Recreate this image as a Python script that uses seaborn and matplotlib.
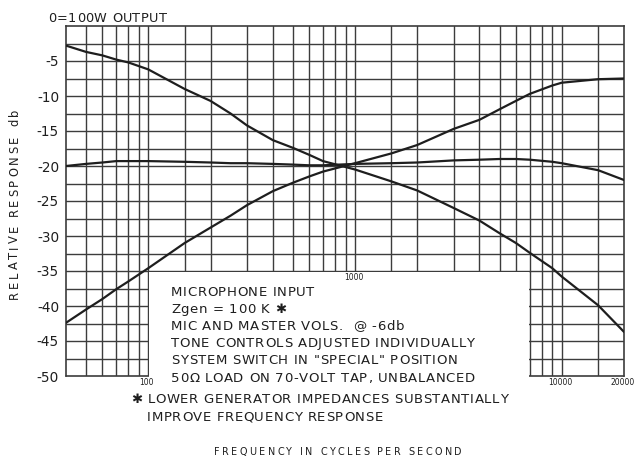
import matplotlib
matplotlib.use("Agg")
import matplotlib.pyplot as plt
import numpy as np
import pandas as pd
import seaborn as sns
from matplotlib.patches import Rectangle
from matplotlib.font_manager import FontProperties, findfont
from matplotlib.ft2font import FT2Font

# Frequency response of the microphone channel, tone controls set individually
freq_hz = [40, 50, 60, 70, 80, 100, 150, 200, 250, 300, 400, 500, 600, 700,
           1000, 1500, 2000, 3000, 4000, 5000, 6000, 7000, 9000, 10000, 15000, 20000]
bass_boost_db = [-2.8, -3.7, -4.2, -4.8, -5.2, -6.2, -9.0, -10.7, -12.5, -14.2, -16.3, -17.4, -18.4, -19.3,
                 -20.5, -22.2, -23.5, -26.0, -27.8, -29.6, -31.0, -32.4, -34.6, -35.8, -39.9, -43.7]
flat_db = [-20.0, -19.7, -19.5, -19.3, -19.3, -19.3, -19.4, -19.5, -19.6, -19.6, -19.7, -19.8, -19.9, -19.9,
           -19.7, -19.6, -19.5, -19.2, -19.1, -19.0, -19.0, -19.1, -19.4, -19.6, -20.6, -22.0]
treble_boost_db = [-42.4, -40.5, -39.0, -37.6, -36.5, -34.6, -31.0, -28.8, -27.1, -25.6, -23.6, -22.4, -21.5, -20.8,
                   -19.6, -18.2, -17.0, -14.7, -13.4, -11.9, -10.7, -9.7, -8.5, -8.1, -7.6, -7.5]

# Graph-paper rulings
grid_freqs = [50, 60, 70, 80, 90, 100, 150, 200, 300, 400, 500, 600, 700, 800, 900,
              1000, 1500, 2000, 3000, 4000, 5000, 6000, 7000, 8000, 9000, 10000, 15000]
grid_db = [-47.5, -45, -42.5, -40, -37.5, -35, -32.5, -30, -27.5, -25, -22.5, -20,
           -17.5, -15, -12.5, -10, -7.5, -5, -2.5]
y_ticks = [-5, -10, -15, -20, -25, -30, -35, -40, -45, -50]
x_label_freqs = [100, 1000, 10000, 20000]
x_label_texts = ["100", "1000", "10000", "20000"]

notes = [
    "MICROPHONE INPUT",
    "Zgen = 100 K \u2731",
    "MIC AND MASTER VOLS.  @ -6db",
    "TONE CONTROLS ADJUSTED INDIVIDUALLY",
    "SYSTEM SWITCH IN \"SPECIAL\" POSITION",
    "50\u03a9 LOAD ON 70-VOLT TAP, UNBALANCED",
]
footnote = ["\u2731 LOWER GENERATOR IMPEDANCES SUBSTANTIALLY", "IMPROVE FREQUENCY RESPONSE"]

sns.set_style("white")
plt.rcParams["font.family"] = ["DejaVu Sans"]
INK = "#1e1e1e"
RULE = "#3c3c3c"

W, H = 639, 457
fig = plt.figure(figsize=(W / 100, H / 100), dpi=100)
fig.patch.set_facecolor("white")

_face = FT2Font(findfont(FontProperties(family="DejaVu Sans")), hinting_factor=1)


def lettering(x_px, y_px, s, size, tracking, align="left", vertical=False):
    """Stencil-style lettering: glyphs placed one by one with extra spacing."""
    _face.set_size(size, 100)
    adv = [_face.load_char(ord(c)).linearHoriAdvance / 65536 for c in s]
    total = sum(adv) + tracking * (len(s) - 1)
    cap = 0.73 * size * 100 / 72
    offs = -total / 2 if align == "center" else 0.0
    for c, a in zip(s, adv):
        if c != " ":
            if vertical:
                x, y, rot = x_px + cap / 2, y_px - offs, 90
            else:
                x, y, rot = x_px + offs, y_px + cap / 2, 0
            fig.text(x / W, 1 - y / H, c, rotation=rot, rotation_mode="anchor",
                     ha="left", va="baseline", fontsize=size, color=INK)
        offs += a + tracking


ax = fig.add_axes([66 / W, 1 - 376 / H, (624 - 66) / W, (376 - 26) / H])
ax.set_facecolor("white")
ax.set_xscale("log")
ax.set_xlim(40, 20000)
ax.set_ylim(-50, 0)

for f in grid_freqs:
    ax.axvline(f, color=RULE, lw=1.0, zorder=1)
for d in grid_db:
    ax.axhline(d, color=RULE, lw=1.0, zorder=1)
ax.axhline(-50, color=RULE, lw=1.2, zorder=1, clip_on=False)

# blank panel for the notes, cut out of the ruled paper
ax.add_patch(Rectangle((100 * 1.008, -51), 7000 / 1.008 - 100 * 1.008, 15.85,
                       facecolor="white", edgecolor="none", zorder=1.5, clip_on=False))

curves = pd.DataFrame({
    "freq": freq_hz * 3,
    "db": bass_boost_db + flat_db + treble_boost_db,
    "curve": ["bass"] * len(freq_hz) + ["flat"] * len(freq_hz) + ["treble"] * len(freq_hz),
})
sns.lineplot(data=curves, x="freq", y="db", hue="curve", palette=[INK] * 3,
             estimator=None, sort=False, lw=1.6, legend=False, ax=ax, zorder=3)

for side in ["left", "top", "right"]:
    ax.spines[side].set_color(RULE)
    ax.spines[side].set_linewidth(1.2)
ax.spines["bottom"].set_visible(False)

ax.set_xticks([])
ax.set_xticks([], minor=True)
ax.set_yticks(y_ticks)
ax.set_yticklabels([f"{v}" for v in y_ticks])
ax.tick_params(axis="y", length=0, pad=5, labelsize=9.8, labelcolor=INK)
ax.set_xlabel("")
ax.set_ylabel("")

for f, t in zip(x_label_freqs, x_label_texts):
    base = -35 if f == 1000 else -50
    ax.text(f * 0.985, base - 0.35, t, ha="center", va="top", fontsize=5.5, color=INK)

lettering(48, 17, "0=100W OUTPUT", 9.3, 0.4)
lettering(14, 204, "RELATIVE RESPONSE db", 8.3, 2.4, align="center", vertical=True)

note_y = [291, 308, 325, 342, 359, 377]
for y, t in zip(note_y, notes):
    lettering(171, y, t, 9.5, 0.75)
lettering(131, 398, footnote[0], 9.5, 0.75)
lettering(147, 416, footnote[1], 9.5, 0.75)
lettering(338, 452, "FREQUENCY IN CYCLES PER SECOND", 6.9, 2.2, align="center")

fig.savefig("out.png", dpi=100, facecolor="white")
